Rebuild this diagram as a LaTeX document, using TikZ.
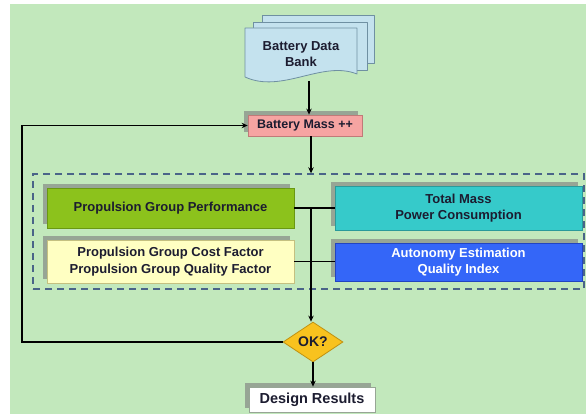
\documentclass[tikz,border=0pt]{standalone}
\usepackage{fontspec}
\setmainfont{Liberation Sans}
\usetikzlibrary{arrows.meta,shapes.geometric,shadows}

\definecolor{bg}{HTML}{C2E8BC}
\definecolor{ink}{HTML}{1C1C30}
\definecolor{shade}{HTML}{97A595}
\definecolor{docfill}{HTML}{C4E2EE}
\definecolor{docline}{HTML}{6F90A2}
\definecolor{massfill}{HTML}{F6A4A2}
\definecolor{massline}{HTML}{C07A78}
\definecolor{perffill}{HTML}{8CC21C}
\definecolor{perfline}{HTML}{6A9812}
\definecolor{costfill}{HTML}{FFFFC2}
\definecolor{costline}{HTML}{C4C080}
\definecolor{tealfill}{HTML}{36CACA}
\definecolor{tealline}{HTML}{2A9A9A}
\definecolor{autofill}{HTML}{3466F8}
\definecolor{autoline}{HTML}{2244C0}
\definecolor{okfill}{HTML}{F8C21E}
\definecolor{okline}{HTML}{C09212}
\definecolor{dashline}{HTML}{4A6488}

\begin{document}
\begin{tikzpicture}[x=1pt,y=-1pt,
  flowbox/.style={draw, line width=0.8pt, text=ink, align=center, inner sep=0pt,
    font=\bfseries\fontsize{13}{16.5}\selectfont,
    drop shadow={shadow xshift=-4pt, shadow yshift=4pt, fill=shade, opacity=1}},
  wide/.style={minimum width=247pt},
  conn/.style={line width=1.6pt, black},
  arrow/.style={conn, -{Stealth[length=6pt,width=5.5pt]}},
  sheet/.style={fill=docfill, draw=docline, line width=0.8pt, line join=round}]

\useasboundingbox (0,0) rectangle (586,414);
\fill[white] (0,0) rectangle (586,414);
\fill[bg] (10,4) rectangle (586,414);

% dashed group container
\node[draw=dashline, line width=1.4pt, dash pattern=on 7pt off 5pt,
      minimum width=551pt, minimum height=115pt, inner sep=0pt] (group) at (308.5,231.5) {};

% battery data bank: stacked document sheets
\draw[sheet] (262,15) rectangle (374,63);
\draw[sheet] (253,22) rectangle (367,70);
\draw[sheet] (245,28) -- (357,28) -- (357,74)
  .. controls (322,60) and (282,94) .. (245,77) -- cycle;
\node[text=ink, align=center, font=\bfseries\fontsize{13}{16.5}\selectfont] (bank) at (301,54) {Battery Data\\Bank};
\coordinate (bankout) at (309,81);

% process boxes
\node[flowbox, fill=massfill, draw=massline, minimum width=114pt, minimum height=21pt,
      font=\bfseries\fontsize{12.5}{15}\selectfont] (mass) at (305,125.5) {Battery Mass ++};
\node[flowbox, wide, fill=perffill, draw=perfline, minimum height=40pt] (perf) at (170.5,208) {Propulsion Group Performance};
\node[flowbox, wide, fill=costfill, draw=costline, minimum height=43pt] (cost) at (170.5,261.5) {Propulsion Group Cost Factor\\Propulsion Group Quality Factor};
\node[flowbox, wide, fill=tealfill, draw=tealline, minimum height=44pt] (mass2) at (458.5,208) {Total Mass\\Power Consumption};
\node[flowbox, wide, fill=autofill, draw=autoline, minimum height=38pt, text=white] (auto) at (458.5,262) {Autonomy Estimation\\Quality Index};

% decision and result
\node[diamond, fill=okfill, draw=okline, line width=0.8pt, minimum width=60pt, minimum height=40pt,
      inner sep=0pt, text=ink, font=\bfseries\fontsize{14}{16}\selectfont] (ok) at (313,342) {OK?};
\node[flowbox, fill=white, draw=shade, minimum width=126pt, minimum height=25pt,
      font=\bfseries\fontsize{14.5}{17}\selectfont] (results) at (312,399.5) {Design Results};

% connectors
\coordinate (spine) at (311,208);
\coordinate (loop) at (22,342);
\draw[arrow] (bankout) -- (bankout |- mass.north);
\draw[arrow] (mass.south -| spine) -- (group.north -| spine);
\draw[conn] (perf.east) -- (mass2.west);
\draw[conn] (cost.east) -- (cost.east -| auto.west);
\draw[arrow] (spine) -- (spine |- ok.north);
\draw[arrow] (ok.south) -- (ok.south |- results.north);
\draw[arrow] (ok.west) -- (loop) -- (loop |- mass.west) -- (mass.west);
\end{tikzpicture}
\end{document}
